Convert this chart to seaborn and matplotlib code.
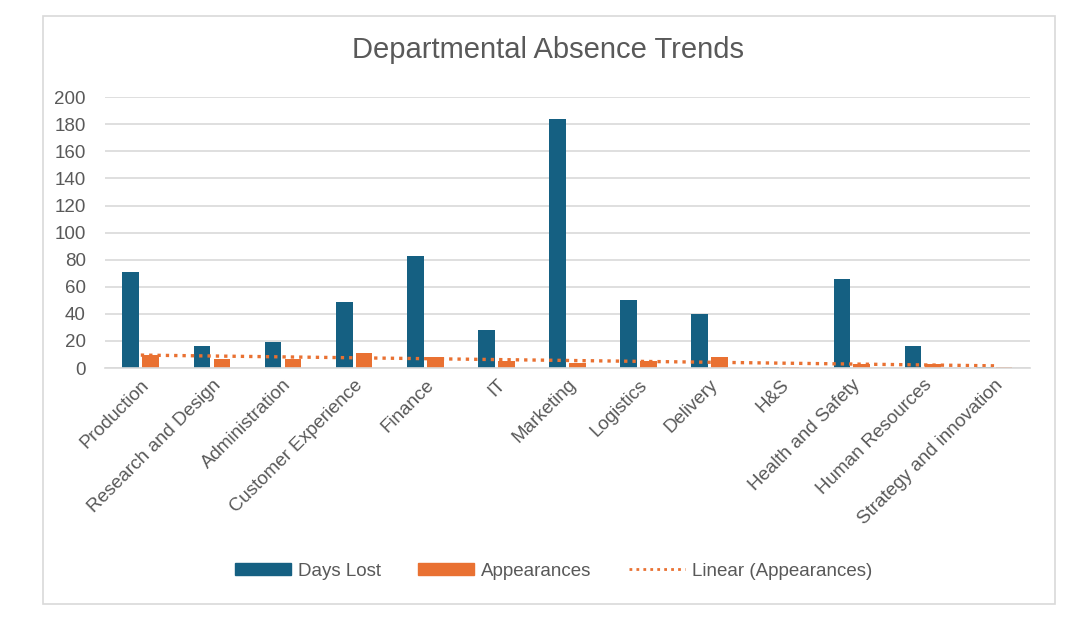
import numpy as np
import pandas as pd
import matplotlib.pyplot as plt
import seaborn as sns
from matplotlib.patches import Rectangle, Patch
from matplotlib.lines import Line2D

departamentos = ["Production", "Research and Design", "Administration",
                 "Customer Experience", "Finance", "IT", "Marketing",
                 "Logistics", "Delivery", "H&S", "Health and Safety",
                 "Human Resources", "Strategy and innovation"]
dias_perdidos = [71, 16, 19, 49, 83, 28, 184, 50, 40, 1, 66, 16, 1]
ocorrencias = [10, 7, 7, 11, 8, 5, 4, 5, 8, 1, 3, 3, 1]
y_ticks = list(range(0, 201, 20))

AZUL = "#156082"
LARANJA = "#E97132"
CINZA_TXT = "#595959"

df = pd.DataFrame({
    "dept": departamentos * 2,
    "valor": dias_perdidos + ocorrencias,
    "serie": ["Days Lost"] * len(departamentos) + ["Appearances"] * len(departamentos),
})

sns.set_style("white")
plt.rcParams['font.family'] = ['Liberation Sans', 'DejaVu Sans']

fig = plt.figure(figsize=(10.85, 6.39), dpi=100)
ax = fig.add_axes([0.097, 0.424, 0.852, 0.424])

sns.barplot(data=df, x="dept", y="valor", hue="serie", order=departamentos,
            palette={"Days Lost": AZUL, "Appearances": LARANJA},
            width=0.56, gap=0.16, ax=ax, legend=False, errorbar=None,
            saturation=1, linewidth=0)

# linha de tendencia linear das ocorrencias
xs = np.arange(len(departamentos))
a, b = np.polyfit(xs, ocorrencias, 1)
ax.plot(xs, a * xs + b, color=LARANJA, linestyle=(0, (1, 1.5)), linewidth=2.4)

ax.set_ylim(0, 200)
ax.set_xlim(-0.5, len(departamentos) - 0.5)
ax.set_yticks(y_ticks)
ax.yaxis.grid(True, color="#D9D9D9", linewidth=1.2)
ax.set_axisbelow(True)
for s in ["top", "right", "left"]:
    ax.spines[s].set_visible(False)
ax.spines["bottom"].set_color("#D9D9D9")
ax.spines["bottom"].set_linewidth(1.2)
ax.set_xlabel("")
ax.set_ylabel("")
ax.tick_params(axis="both", length=0, labelsize=13.5, colors=CINZA_TXT)
ax.tick_params(axis="y", pad=14)
ax.tick_params(axis="x", pad=6)
plt.setp(ax.get_xticklabels(), rotation=45, ha="right", rotation_mode="anchor")

fig.text(0.505, 0.922, "Departmental Absence Trends", ha="center", va="center",
         fontsize=21, color=CINZA_TXT)

handles = [Patch(color=AZUL), Patch(color=LARANJA),
           Line2D([0], [0], color=LARANJA, linestyle=(0, (1, 1.5)), linewidth=2)]
fig.legend(handles, ["Days Lost", "Appearances", "Linear (Appearances)"],
           loc="center", bbox_to_anchor=(0.51, 0.106), ncol=3, frameon=False,
           fontsize=13.5, labelcolor=CINZA_TXT, handlelength=3.0, handleheight=0.6,
           columnspacing=2.0, handletextpad=0.35)

# moldura da area do grafico
fig.patches.append(Rectangle((43 / 1085, 1 - 604 / 639), (1055 - 43) / 1085,
                             (604 - 16) / 639, transform=fig.transFigure,
                             fill=False, edgecolor="#D9D9D9", linewidth=1.2))

fig.savefig("out.png", dpi=100)
